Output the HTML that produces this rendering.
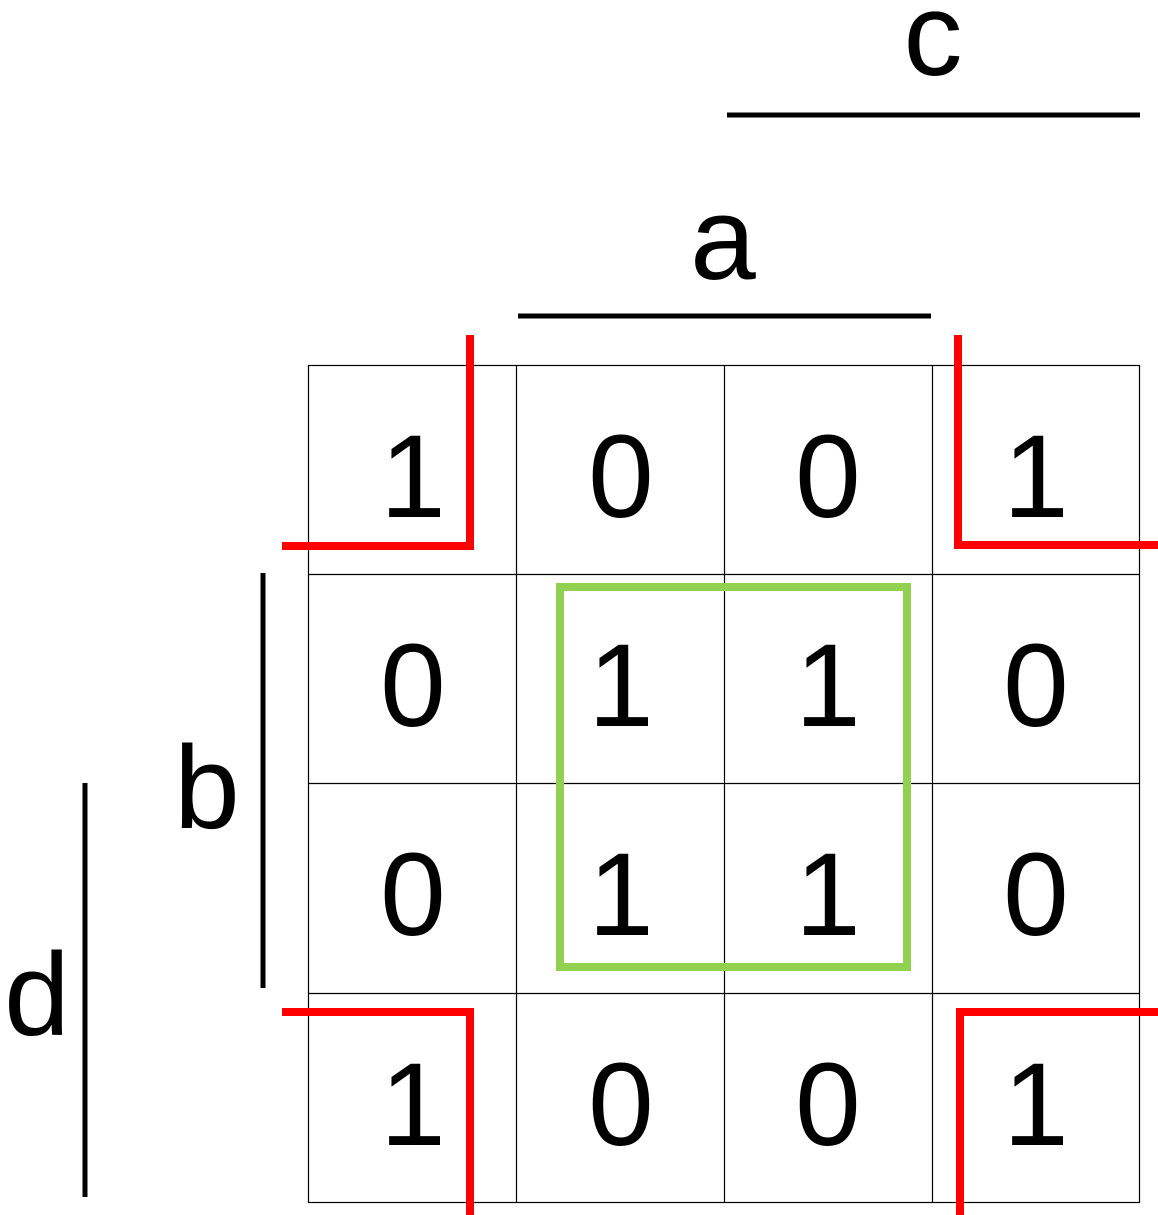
<!DOCTYPE html>
<html><head><style>html,body{margin:0;padding:0;background:#fff}svg{display:block}</style></head>
<body>
<svg width="1158" height="1215" viewBox="0 0 1158 1215" xmlns="http://www.w3.org/2000/svg">
<g stroke="#000" stroke-width="1.2" fill="none">
<rect x="308.5" y="365.5" width="831" height="837"/>
<line x1="516.5" y1="365" x2="516.5" y2="1202"/>
<line x1="724.5" y1="365" x2="724.5" y2="1202"/>
<line x1="932.5" y1="365" x2="932.5" y2="1202"/>
<line x1="308" y1="574.5" x2="1139" y2="574.5"/>
<line x1="308" y1="783.5" x2="1139" y2="783.5"/>
<line x1="308" y1="993.5" x2="1139" y2="993.5"/>
</g>
<g stroke="#000" stroke-width="5">
<line x1="727" y1="115" x2="1140" y2="115"/>
<line x1="518" y1="316" x2="931" y2="316"/>
<line x1="263" y1="573" x2="263" y2="988"/>
<line x1="85" y1="783" x2="85" y2="1197"/>
</g>
<g font-family="Liberation Sans, sans-serif" font-size="118" text-anchor="middle" fill="#000">
<text x="413" y="517">1</text><text x="621" y="517">0</text><text x="828" y="517">0</text><text x="1036" y="517">1</text>
<text x="413" y="726">0</text><text x="621" y="726">1</text><text x="828" y="726">1</text><text x="1036" y="726">0</text>
<text x="413" y="935">0</text><text x="621" y="935">1</text><text x="828" y="935">1</text><text x="1036" y="935">0</text>
<text x="413" y="1145">1</text><text x="621" y="1145">0</text><text x="828" y="1145">0</text><text x="1036" y="1145">1</text>
<text x="933" y="75">c</text>
<text x="723" y="279">a</text>
<text x="207" y="828">b</text>
<text x="37" y="1035">d</text>
</g>
<rect x="560" y="587" width="347" height="380" fill="none" stroke="#92d050" stroke-width="8"/>
<g stroke="#ff0000" stroke-width="8" fill="none">
<polyline points="470,335 470,546 282,546"/>
<polyline points="958,335 958,545 1158,545"/>
<polyline points="282,1012 470,1012 470,1215"/>
<polyline points="960,1215 960,1012 1158,1012"/>
</g>
</svg>
</body></html>
